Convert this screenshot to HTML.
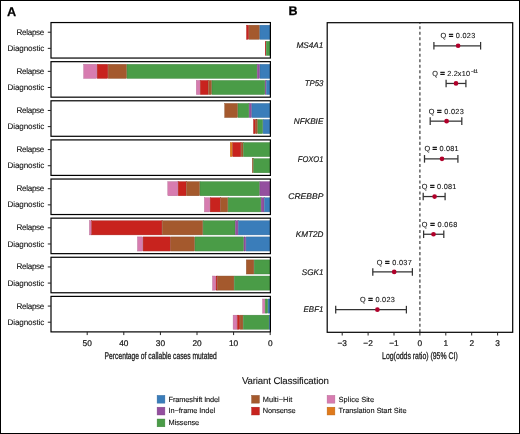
<!DOCTYPE html>
<html><head><meta charset="utf-8"><style>
html,body{margin:0;padding:0;background:#fff;}
#root{position:relative;width:520px;height:434px;overflow:hidden;background:#fff;}
#frame{position:absolute;left:0;top:0;width:520px;height:434px;box-sizing:border-box;border:1px solid #000;}
</style></head><body><div id="root">
<svg width="520" height="434" viewBox="0 0 520 434" style="position:absolute;left:0;top:0;will-change:transform">
<g font-family='"Liberation Sans", sans-serif' text-rendering="geometricPrecision">
<text x="7.0" y="15.65" font-size="12.7" font-weight="bold" fill="#000" stroke="#000" stroke-width="0.25">A</text>
<text x="288.6" y="15.4" font-size="12.5" font-weight="bold" fill="#000" stroke="#000" stroke-width="0.25">B</text>
<rect x="246.50" y="25.17" width="2.20" height="14.12" fill="#c8231e" stroke="#a41c18" stroke-width="0.4"/>
<rect x="249.10" y="25.17" width="10.40" height="14.12" fill="#a4592d" stroke="#864824" stroke-width="0.4"/>
<rect x="259.90" y="25.17" width="10.10" height="14.12" fill="#3a7dba" stroke="#2f6698" stroke-width="0.4"/>
<rect x="265.20" y="41.31" width="0.70" height="14.12" fill="#c8231e" stroke="#a41c18" stroke-width="0.4"/>
<rect x="266.30" y="41.31" width="3.70" height="14.12" fill="#4a9c47" stroke="#3c7f3a" stroke-width="0.4"/>
<rect x="51.0" y="22.55" width="219.40" height="35.5" fill="none" stroke="#000" stroke-width="1.2"/>
<line x1="47.8" x2="51.0" y1="32.23" y2="32.23" stroke="#222" stroke-width="1"/>
<line x1="47.8" x2="51.0" y1="48.37" y2="48.37" stroke="#222" stroke-width="1"/>
<text x="44.3" y="34.75" font-size="8.1" text-anchor="end" textLength="27.8" lengthAdjust="spacing" fill="#111" stroke="#111" stroke-width="0.1">Relapse</text>
<text x="44.3" y="50.90" font-size="8.1" text-anchor="end" textLength="36.8" lengthAdjust="spacing" fill="#111" stroke="#111" stroke-width="0.1">Diagnostic</text>
<rect x="83.70" y="64.29" width="13.10" height="14.12" fill="#d77cb0" stroke="#b06590" stroke-width="0.4"/>
<rect x="97.20" y="64.29" width="10.60" height="14.12" fill="#c8231e" stroke="#a41c18" stroke-width="0.4"/>
<rect x="108.20" y="64.29" width="18.40" height="14.12" fill="#a4592d" stroke="#864824" stroke-width="0.4"/>
<rect x="127.00" y="64.29" width="129.90" height="14.12" fill="#4a9c47" stroke="#3c7f3a" stroke-width="0.4"/>
<rect x="257.30" y="64.29" width="2.30" height="14.12" fill="#944f9f" stroke="#794082" stroke-width="0.4"/>
<rect x="260.00" y="64.29" width="10.00" height="14.12" fill="#3a7dba" stroke="#2f6698" stroke-width="0.4"/>
<rect x="196.30" y="80.43" width="3.60" height="14.12" fill="#d77cb0" stroke="#b06590" stroke-width="0.4"/>
<rect x="200.30" y="80.43" width="7.70" height="14.12" fill="#c8231e" stroke="#a41c18" stroke-width="0.4"/>
<rect x="208.40" y="80.43" width="3.20" height="14.12" fill="#a4592d" stroke="#864824" stroke-width="0.4"/>
<rect x="212.00" y="80.43" width="52.80" height="14.12" fill="#4a9c47" stroke="#3c7f3a" stroke-width="0.4"/>
<rect x="265.20" y="80.43" width="0.80" height="14.12" fill="#944f9f" stroke="#794082" stroke-width="0.4"/>
<rect x="266.40" y="80.43" width="3.60" height="14.12" fill="#3a7dba" stroke="#2f6698" stroke-width="0.4"/>
<rect x="51.0" y="61.67" width="219.40" height="35.5" fill="none" stroke="#000" stroke-width="1.2"/>
<line x1="47.8" x2="51.0" y1="71.35" y2="71.35" stroke="#222" stroke-width="1"/>
<line x1="47.8" x2="51.0" y1="87.49" y2="87.49" stroke="#222" stroke-width="1"/>
<text x="44.3" y="73.87" font-size="8.1" text-anchor="end" textLength="27.8" lengthAdjust="spacing" fill="#111" stroke="#111" stroke-width="0.1">Relapse</text>
<text x="44.3" y="90.02" font-size="8.1" text-anchor="end" textLength="36.8" lengthAdjust="spacing" fill="#111" stroke="#111" stroke-width="0.1">Diagnostic</text>
<rect x="224.70" y="103.41" width="12.90" height="14.12" fill="#a4592d" stroke="#864824" stroke-width="0.4"/>
<rect x="238.00" y="103.41" width="10.80" height="14.12" fill="#4a9c47" stroke="#3c7f3a" stroke-width="0.4"/>
<rect x="249.20" y="103.41" width="2.30" height="14.12" fill="#944f9f" stroke="#794082" stroke-width="0.4"/>
<rect x="251.90" y="103.41" width="18.10" height="14.12" fill="#3a7dba" stroke="#2f6698" stroke-width="0.4"/>
<rect x="253.50" y="119.55" width="1.90" height="14.12" fill="#c8231e" stroke="#a41c18" stroke-width="0.4"/>
<rect x="255.80" y="119.55" width="1.70" height="14.12" fill="#a4592d" stroke="#864824" stroke-width="0.4"/>
<rect x="257.90" y="119.55" width="4.80" height="14.12" fill="#4a9c47" stroke="#3c7f3a" stroke-width="0.4"/>
<rect x="263.10" y="119.55" width="6.90" height="14.12" fill="#3a7dba" stroke="#2f6698" stroke-width="0.4"/>
<rect x="51.0" y="100.79" width="219.40" height="35.5" fill="none" stroke="#000" stroke-width="1.2"/>
<line x1="47.8" x2="51.0" y1="110.47" y2="110.47" stroke="#222" stroke-width="1"/>
<line x1="47.8" x2="51.0" y1="126.61" y2="126.61" stroke="#222" stroke-width="1"/>
<text x="44.3" y="112.99" font-size="8.1" text-anchor="end" textLength="27.8" lengthAdjust="spacing" fill="#111" stroke="#111" stroke-width="0.1">Relapse</text>
<text x="44.3" y="129.14" font-size="8.1" text-anchor="end" textLength="36.8" lengthAdjust="spacing" fill="#111" stroke="#111" stroke-width="0.1">Diagnostic</text>
<rect x="230.20" y="142.53" width="2.20" height="14.12" fill="#df7a1c" stroke="#b66416" stroke-width="0.4"/>
<rect x="232.80" y="142.53" width="8.00" height="14.12" fill="#c8231e" stroke="#a41c18" stroke-width="0.4"/>
<rect x="241.20" y="142.53" width="1.90" height="14.12" fill="#a4592d" stroke="#864824" stroke-width="0.4"/>
<rect x="243.50" y="142.53" width="26.50" height="14.12" fill="#4a9c47" stroke="#3c7f3a" stroke-width="0.4"/>
<rect x="252.30" y="158.67" width="0.90" height="14.12" fill="#a4592d" stroke="#864824" stroke-width="0.4"/>
<rect x="253.60" y="158.67" width="16.40" height="14.12" fill="#4a9c47" stroke="#3c7f3a" stroke-width="0.4"/>
<rect x="51.0" y="139.91" width="219.40" height="35.5" fill="none" stroke="#000" stroke-width="1.2"/>
<line x1="47.8" x2="51.0" y1="149.59" y2="149.59" stroke="#222" stroke-width="1"/>
<line x1="47.8" x2="51.0" y1="165.73" y2="165.73" stroke="#222" stroke-width="1"/>
<text x="44.3" y="152.11" font-size="8.1" text-anchor="end" textLength="27.8" lengthAdjust="spacing" fill="#111" stroke="#111" stroke-width="0.1">Relapse</text>
<text x="44.3" y="168.26" font-size="8.1" text-anchor="end" textLength="36.8" lengthAdjust="spacing" fill="#111" stroke="#111" stroke-width="0.1">Diagnostic</text>
<rect x="167.80" y="181.65" width="10.00" height="14.12" fill="#d77cb0" stroke="#b06590" stroke-width="0.4"/>
<rect x="178.20" y="181.65" width="7.90" height="14.12" fill="#c8231e" stroke="#a41c18" stroke-width="0.4"/>
<rect x="186.50" y="181.65" width="13.10" height="14.12" fill="#a4592d" stroke="#864824" stroke-width="0.4"/>
<rect x="200.00" y="181.65" width="59.50" height="14.12" fill="#4a9c47" stroke="#3c7f3a" stroke-width="0.4"/>
<rect x="259.90" y="181.65" width="10.10" height="14.12" fill="#944f9f" stroke="#794082" stroke-width="0.4"/>
<rect x="204.40" y="197.79" width="5.40" height="14.12" fill="#d77cb0" stroke="#b06590" stroke-width="0.4"/>
<rect x="210.20" y="197.79" width="10.00" height="14.12" fill="#c8231e" stroke="#a41c18" stroke-width="0.4"/>
<rect x="220.60" y="197.79" width="7.10" height="14.12" fill="#a4592d" stroke="#864824" stroke-width="0.4"/>
<rect x="228.10" y="197.79" width="32.70" height="14.12" fill="#4a9c47" stroke="#3c7f3a" stroke-width="0.4"/>
<rect x="261.20" y="197.79" width="2.80" height="14.12" fill="#944f9f" stroke="#794082" stroke-width="0.4"/>
<rect x="264.40" y="197.79" width="5.60" height="14.12" fill="#3a7dba" stroke="#2f6698" stroke-width="0.4"/>
<rect x="51.0" y="179.03" width="219.40" height="35.5" fill="none" stroke="#000" stroke-width="1.2"/>
<line x1="47.8" x2="51.0" y1="188.71" y2="188.71" stroke="#222" stroke-width="1"/>
<line x1="47.8" x2="51.0" y1="204.85" y2="204.85" stroke="#222" stroke-width="1"/>
<text x="44.3" y="191.23" font-size="8.1" text-anchor="end" textLength="27.8" lengthAdjust="spacing" fill="#111" stroke="#111" stroke-width="0.1">Relapse</text>
<text x="44.3" y="207.38" font-size="8.1" text-anchor="end" textLength="36.8" lengthAdjust="spacing" fill="#111" stroke="#111" stroke-width="0.1">Diagnostic</text>
<rect x="89.40" y="220.77" width="1.90" height="14.12" fill="#d77cb0" stroke="#b06590" stroke-width="0.4"/>
<rect x="91.70" y="220.77" width="70.20" height="14.12" fill="#c8231e" stroke="#a41c18" stroke-width="0.4"/>
<rect x="162.30" y="220.77" width="40.40" height="14.12" fill="#a4592d" stroke="#864824" stroke-width="0.4"/>
<rect x="203.10" y="220.77" width="31.90" height="14.12" fill="#4a9c47" stroke="#3c7f3a" stroke-width="0.4"/>
<rect x="235.40" y="220.77" width="2.50" height="14.12" fill="#944f9f" stroke="#794082" stroke-width="0.4"/>
<rect x="238.30" y="220.77" width="31.70" height="14.12" fill="#3a7dba" stroke="#2f6698" stroke-width="0.4"/>
<rect x="137.50" y="236.91" width="5.20" height="14.12" fill="#d77cb0" stroke="#b06590" stroke-width="0.4"/>
<rect x="143.10" y="236.91" width="27.30" height="14.12" fill="#c8231e" stroke="#a41c18" stroke-width="0.4"/>
<rect x="170.80" y="236.91" width="23.80" height="14.12" fill="#a4592d" stroke="#864824" stroke-width="0.4"/>
<rect x="195.00" y="236.91" width="48.60" height="14.12" fill="#4a9c47" stroke="#3c7f3a" stroke-width="0.4"/>
<rect x="244.00" y="236.91" width="1.70" height="14.12" fill="#944f9f" stroke="#794082" stroke-width="0.4"/>
<rect x="246.10" y="236.91" width="23.90" height="14.12" fill="#3a7dba" stroke="#2f6698" stroke-width="0.4"/>
<rect x="51.0" y="218.15" width="219.40" height="35.5" fill="none" stroke="#000" stroke-width="1.2"/>
<line x1="47.8" x2="51.0" y1="227.83" y2="227.83" stroke="#222" stroke-width="1"/>
<line x1="47.8" x2="51.0" y1="243.97" y2="243.97" stroke="#222" stroke-width="1"/>
<text x="44.3" y="230.35" font-size="8.1" text-anchor="end" textLength="27.8" lengthAdjust="spacing" fill="#111" stroke="#111" stroke-width="0.1">Relapse</text>
<text x="44.3" y="246.50" font-size="8.1" text-anchor="end" textLength="36.8" lengthAdjust="spacing" fill="#111" stroke="#111" stroke-width="0.1">Diagnostic</text>
<rect x="246.30" y="259.89" width="7.50" height="14.12" fill="#a4592d" stroke="#864824" stroke-width="0.4"/>
<rect x="254.20" y="259.89" width="15.80" height="14.12" fill="#4a9c47" stroke="#3c7f3a" stroke-width="0.4"/>
<rect x="212.50" y="276.03" width="3.20" height="14.12" fill="#d77cb0" stroke="#b06590" stroke-width="0.4"/>
<rect x="216.10" y="276.03" width="1.20" height="14.12" fill="#c8231e" stroke="#a41c18" stroke-width="0.4"/>
<rect x="217.70" y="276.03" width="16.20" height="14.12" fill="#a4592d" stroke="#864824" stroke-width="0.4"/>
<rect x="234.30" y="276.03" width="35.70" height="14.12" fill="#4a9c47" stroke="#3c7f3a" stroke-width="0.4"/>
<rect x="51.0" y="257.27" width="219.40" height="35.5" fill="none" stroke="#000" stroke-width="1.2"/>
<line x1="47.8" x2="51.0" y1="266.95" y2="266.95" stroke="#222" stroke-width="1"/>
<line x1="47.8" x2="51.0" y1="283.09" y2="283.09" stroke="#222" stroke-width="1"/>
<text x="44.3" y="269.47" font-size="8.1" text-anchor="end" textLength="27.8" lengthAdjust="spacing" fill="#111" stroke="#111" stroke-width="0.1">Relapse</text>
<text x="44.3" y="285.62" font-size="8.1" text-anchor="end" textLength="36.8" lengthAdjust="spacing" fill="#111" stroke="#111" stroke-width="0.1">Diagnostic</text>
<rect x="262.60" y="299.01" width="2.20" height="14.12" fill="#d77cb0" stroke="#b06590" stroke-width="0.4"/>
<rect x="265.20" y="299.01" width="2.50" height="14.12" fill="#4a9c47" stroke="#3c7f3a" stroke-width="0.4"/>
<rect x="268.10" y="299.01" width="1.90" height="14.12" fill="#3a7dba" stroke="#2f6698" stroke-width="0.4"/>
<rect x="233.10" y="315.15" width="3.90" height="14.12" fill="#d77cb0" stroke="#b06590" stroke-width="0.4"/>
<rect x="237.40" y="315.15" width="2.30" height="14.12" fill="#c8231e" stroke="#a41c18" stroke-width="0.4"/>
<rect x="240.10" y="315.15" width="2.80" height="14.12" fill="#a4592d" stroke="#864824" stroke-width="0.4"/>
<rect x="243.30" y="315.15" width="25.60" height="14.12" fill="#4a9c47" stroke="#3c7f3a" stroke-width="0.4"/>
<rect x="269.30" y="315.15" width="0.70" height="14.12" fill="#3a7dba" stroke="#2f6698" stroke-width="0.4"/>
<rect x="51.0" y="296.39" width="219.40" height="35.5" fill="none" stroke="#000" stroke-width="1.2"/>
<line x1="47.8" x2="51.0" y1="306.07" y2="306.07" stroke="#222" stroke-width="1"/>
<line x1="47.8" x2="51.0" y1="322.21" y2="322.21" stroke="#222" stroke-width="1"/>
<text x="44.3" y="308.59" font-size="8.1" text-anchor="end" textLength="27.8" lengthAdjust="spacing" fill="#111" stroke="#111" stroke-width="0.1">Relapse</text>
<text x="44.3" y="324.74" font-size="8.1" text-anchor="end" textLength="36.8" lengthAdjust="spacing" fill="#111" stroke="#111" stroke-width="0.1">Diagnostic</text>
<line x1="270.20" x2="270.20" y1="331.89" y2="335.09" stroke="#222" stroke-width="1"/>
<text x="270.20" y="345.8" font-size="8.3" text-anchor="middle" fill="#111" stroke="#111" stroke-width="0.2">0</text>
<line x1="233.60" x2="233.60" y1="331.89" y2="335.09" stroke="#222" stroke-width="1"/>
<text x="233.60" y="345.8" font-size="8.3" text-anchor="middle" fill="#111" stroke="#111" stroke-width="0.2">10</text>
<line x1="197.00" x2="197.00" y1="331.89" y2="335.09" stroke="#222" stroke-width="1"/>
<text x="197.00" y="345.8" font-size="8.3" text-anchor="middle" fill="#111" stroke="#111" stroke-width="0.2">20</text>
<line x1="160.40" x2="160.40" y1="331.89" y2="335.09" stroke="#222" stroke-width="1"/>
<text x="160.40" y="345.8" font-size="8.3" text-anchor="middle" fill="#111" stroke="#111" stroke-width="0.2">30</text>
<line x1="123.80" x2="123.80" y1="331.89" y2="335.09" stroke="#222" stroke-width="1"/>
<text x="123.80" y="345.8" font-size="8.3" text-anchor="middle" fill="#111" stroke="#111" stroke-width="0.2">40</text>
<line x1="87.20" x2="87.20" y1="331.89" y2="335.09" stroke="#222" stroke-width="1"/>
<text x="87.20" y="345.8" font-size="8.3" text-anchor="middle" fill="#111" stroke="#111" stroke-width="0.2">50</text>
<text x="160.7" y="359.0" font-size="9.7" text-anchor="middle" textLength="112.3" lengthAdjust="spacingAndGlyphs" fill="#1a1a1a" stroke="#1a1a1a" stroke-width="0.3">Percentage of callable cases mutated</text>
<line x1="419.9" x2="419.9" y1="22.7" y2="332.3" stroke="#4a4a4a" stroke-width="1.3" stroke-dasharray="3.1 2.408" stroke-dashoffset="2.008"/>
<text x="323.4" y="48.45" font-size="8.3" font-style="italic" text-anchor="end" textLength="26.9" lengthAdjust="spacingAndGlyphs" fill="#111" stroke="#111" stroke-width="0.15">MS4A1</text>
<line x1="433.9" x2="480.6" y1="45.75" y2="45.75" stroke="#333" stroke-width="1.25"/>
<line x1="433.9" x2="433.9" y1="41.95" y2="49.55" stroke="#333" stroke-width="1.25"/>
<line x1="480.6" x2="480.6" y1="41.95" y2="49.55" stroke="#333" stroke-width="1.25"/>
<circle cx="458.1" cy="45.75" r="2.35" fill="#b0002a"/>
<text x="440.5" y="38.35" font-size="7.3" textLength="34.7" lengthAdjust="spacing" fill="#111" stroke="#111" stroke-width="0.1">Q <tspan font-weight="bold" font-size="7.8" stroke-width="0.35">=</tspan> 0.023</text>
<text x="323.4" y="86.15" font-size="8.3" font-style="italic" text-anchor="end" textLength="18.7" lengthAdjust="spacingAndGlyphs" fill="#111" stroke="#111" stroke-width="0.15">TP53</text>
<line x1="446.1" x2="465.9" y1="83.45" y2="83.45" stroke="#333" stroke-width="1.25"/>
<line x1="446.1" x2="446.1" y1="79.65" y2="87.25" stroke="#333" stroke-width="1.25"/>
<line x1="465.9" x2="465.9" y1="79.65" y2="87.25" stroke="#333" stroke-width="1.25"/>
<circle cx="456.0" cy="83.45" r="2.35" fill="#b0002a"/>
<text x="432.2" y="76.05" font-size="7.3" textLength="37.8" lengthAdjust="spacing" fill="#111" stroke="#111" stroke-width="0.08">Q <tspan font-weight="bold" font-size="7.8" stroke-width="0.35">=</tspan> 2.2x10</text>
<text x="470.9" y="72.75" font-size="5.0" textLength="7.2" lengthAdjust="spacing" fill="#111" stroke="#111" stroke-width="0.15">&#8722;11</text>
<text x="323.4" y="123.85" font-size="8.3" font-style="italic" text-anchor="end" textLength="29.7" lengthAdjust="spacingAndGlyphs" fill="#111" stroke="#111" stroke-width="0.15">NFKBIE</text>
<line x1="430.2" x2="461.8" y1="121.15" y2="121.15" stroke="#333" stroke-width="1.25"/>
<line x1="430.2" x2="430.2" y1="117.35" y2="124.95" stroke="#333" stroke-width="1.25"/>
<line x1="461.8" x2="461.8" y1="117.35" y2="124.95" stroke="#333" stroke-width="1.25"/>
<circle cx="446.6" cy="121.15" r="2.35" fill="#b0002a"/>
<text x="428.8" y="113.75" font-size="7.3" textLength="35.0" lengthAdjust="spacing" fill="#111" stroke="#111" stroke-width="0.1">Q <tspan font-weight="bold" font-size="7.8" stroke-width="0.35">=</tspan> 0.023</text>
<text x="323.4" y="161.55" font-size="8.3" font-style="italic" text-anchor="end" textLength="25.6" lengthAdjust="spacingAndGlyphs" fill="#111" stroke="#111" stroke-width="0.15">FOXO1</text>
<line x1="424.5" x2="457.9" y1="158.85" y2="158.85" stroke="#333" stroke-width="1.25"/>
<line x1="424.5" x2="424.5" y1="155.05" y2="162.65" stroke="#333" stroke-width="1.25"/>
<line x1="457.9" x2="457.9" y1="155.05" y2="162.65" stroke="#333" stroke-width="1.25"/>
<circle cx="442.0" cy="158.85" r="2.35" fill="#b0002a"/>
<text x="424.5" y="151.45" font-size="7.3" textLength="34.1" lengthAdjust="spacing" fill="#111" stroke="#111" stroke-width="0.1">Q <tspan font-weight="bold" font-size="7.8" stroke-width="0.35">=</tspan> 0.081</text>
<text x="323.4" y="199.25" font-size="8.3" font-style="italic" text-anchor="end" textLength="35.1" lengthAdjust="spacingAndGlyphs" fill="#111" stroke="#111" stroke-width="0.15">CREBBP</text>
<line x1="423.2" x2="445.1" y1="196.55" y2="196.55" stroke="#333" stroke-width="1.25"/>
<line x1="423.2" x2="423.2" y1="192.75" y2="200.35" stroke="#333" stroke-width="1.25"/>
<line x1="445.1" x2="445.1" y1="192.75" y2="200.35" stroke="#333" stroke-width="1.25"/>
<circle cx="434.6" cy="196.55" r="2.35" fill="#b0002a"/>
<text x="421.8" y="189.15" font-size="7.3" textLength="34.6" lengthAdjust="spacing" fill="#111" stroke="#111" stroke-width="0.1">Q <tspan font-weight="bold" font-size="7.8" stroke-width="0.35">=</tspan> 0.081</text>
<text x="323.4" y="236.95" font-size="8.3" font-style="italic" text-anchor="end" textLength="27.6" lengthAdjust="spacingAndGlyphs" fill="#111" stroke="#111" stroke-width="0.15">KMT2D</text>
<line x1="423.6" x2="443.8" y1="234.25" y2="234.25" stroke="#333" stroke-width="1.25"/>
<line x1="423.6" x2="423.6" y1="230.45" y2="238.05" stroke="#333" stroke-width="1.25"/>
<line x1="443.8" x2="443.8" y1="230.45" y2="238.05" stroke="#333" stroke-width="1.25"/>
<circle cx="433.5" cy="234.25" r="2.35" fill="#b0002a"/>
<text x="421.8" y="226.85" font-size="7.3" textLength="35.4" lengthAdjust="spacing" fill="#111" stroke="#111" stroke-width="0.1">Q <tspan font-weight="bold" font-size="7.8" stroke-width="0.35">=</tspan> 0.068</text>
<text x="323.4" y="274.65" font-size="8.3" font-style="italic" text-anchor="end" textLength="21.6" lengthAdjust="spacingAndGlyphs" fill="#111" stroke="#111" stroke-width="0.15">SGK1</text>
<line x1="372.8" x2="412.4" y1="271.95" y2="271.95" stroke="#333" stroke-width="1.25"/>
<line x1="372.8" x2="372.8" y1="268.15" y2="275.75" stroke="#333" stroke-width="1.25"/>
<line x1="412.4" x2="412.4" y1="268.15" y2="275.75" stroke="#333" stroke-width="1.25"/>
<circle cx="394.2" cy="271.95" r="2.35" fill="#b0002a"/>
<text x="376.8" y="264.55" font-size="7.3" textLength="35.0" lengthAdjust="spacing" fill="#111" stroke="#111" stroke-width="0.1">Q <tspan font-weight="bold" font-size="7.8" stroke-width="0.35">=</tspan> 0.037</text>
<text x="323.4" y="312.35" font-size="8.3" font-style="italic" text-anchor="end" textLength="19.8" lengthAdjust="spacingAndGlyphs" fill="#111" stroke="#111" stroke-width="0.15">EBF1</text>
<line x1="335.7" x2="406.4" y1="309.65" y2="309.65" stroke="#333" stroke-width="1.25"/>
<line x1="335.7" x2="335.7" y1="305.85" y2="313.45" stroke="#333" stroke-width="1.25"/>
<line x1="406.4" x2="406.4" y1="305.85" y2="313.45" stroke="#333" stroke-width="1.25"/>
<circle cx="377.4" cy="309.65" r="2.35" fill="#b0002a"/>
<text x="359.9" y="302.25" font-size="7.3" textLength="35.0" lengthAdjust="spacing" fill="#111" stroke="#111" stroke-width="0.1">Q <tspan font-weight="bold" font-size="7.8" stroke-width="0.35">=</tspan> 0.023</text>
<rect x="327.2" y="22.7" width="185.50" height="309.60" fill="none" stroke="#000" stroke-width="1.2"/>
<line x1="342.20" x2="342.20" y1="332.30" y2="335.50" stroke="#222" stroke-width="1"/>
<text x="342.20" y="345.6" font-size="8.3" text-anchor="middle" fill="#111" stroke="#111" stroke-width="0.2">&#8722;3</text>
<line x1="368.10" x2="368.10" y1="332.30" y2="335.50" stroke="#222" stroke-width="1"/>
<text x="368.10" y="345.6" font-size="8.3" text-anchor="middle" fill="#111" stroke="#111" stroke-width="0.2">&#8722;2</text>
<line x1="394.00" x2="394.00" y1="332.30" y2="335.50" stroke="#222" stroke-width="1"/>
<text x="394.00" y="345.6" font-size="8.3" text-anchor="middle" fill="#111" stroke="#111" stroke-width="0.2">&#8722;1</text>
<line x1="419.90" x2="419.90" y1="332.30" y2="335.50" stroke="#222" stroke-width="1"/>
<text x="419.90" y="345.6" font-size="8.3" text-anchor="middle" fill="#111" stroke="#111" stroke-width="0.2">0</text>
<line x1="445.80" x2="445.80" y1="332.30" y2="335.50" stroke="#222" stroke-width="1"/>
<text x="445.80" y="345.6" font-size="8.3" text-anchor="middle" fill="#111" stroke="#111" stroke-width="0.2">1</text>
<line x1="471.70" x2="471.70" y1="332.30" y2="335.50" stroke="#222" stroke-width="1"/>
<text x="471.70" y="345.6" font-size="8.3" text-anchor="middle" fill="#111" stroke="#111" stroke-width="0.2">2</text>
<line x1="497.60" x2="497.60" y1="332.30" y2="335.50" stroke="#222" stroke-width="1"/>
<text x="497.60" y="345.6" font-size="8.3" text-anchor="middle" fill="#111" stroke="#111" stroke-width="0.2">3</text>
<text x="419.9" y="359.4" font-size="9.7" text-anchor="middle" textLength="75.6" lengthAdjust="spacingAndGlyphs" fill="#1a1a1a" stroke="#1a1a1a" stroke-width="0.3">Log(odds ratio) (95% CI)</text>
<text x="241.9" y="383.8" font-size="9.7" textLength="86.9" lengthAdjust="spacing" fill="#111" stroke="#111" stroke-width="0.1">Variant Classification</text>
<rect x="157.10" y="395.35" width="7.8" height="7.8" fill="#3a7dba" stroke="#2f6698" stroke-width="0.4"/>
<text x="168.6" y="401.65" font-size="7.4" textLength="51.1" lengthAdjust="spacing" fill="#111" stroke="#111" stroke-width="0.12">Frameshift Indel</text>
<rect x="157.10" y="407.18" width="7.8" height="7.8" fill="#944f9f" stroke="#794082" stroke-width="0.4"/>
<text x="168.6" y="413.48" font-size="7.4" textLength="46.5" lengthAdjust="spacing" fill="#111" stroke="#111" stroke-width="0.12">In&#8722;frame Indel</text>
<rect x="157.10" y="419.01" width="7.8" height="7.8" fill="#4a9c47" stroke="#3c7f3a" stroke-width="0.4"/>
<text x="168.6" y="425.31" font-size="7.4" textLength="30.6" lengthAdjust="spacing" fill="#111" stroke="#111" stroke-width="0.12">Missense</text>
<rect x="251.60" y="395.35" width="7.8" height="7.8" fill="#a4592d" stroke="#864824" stroke-width="0.4"/>
<text x="262.7" y="401.65" font-size="7.4" textLength="29.6" lengthAdjust="spacing" fill="#111" stroke="#111" stroke-width="0.12">Multi&#8722;Hit</text>
<rect x="251.60" y="407.18" width="7.8" height="7.8" fill="#c8231e" stroke="#a41c18" stroke-width="0.4"/>
<text x="262.7" y="413.48" font-size="7.4" textLength="33.0" lengthAdjust="spacing" fill="#111" stroke="#111" stroke-width="0.12">Nonsense</text>
<rect x="327.10" y="395.35" width="7.8" height="7.8" fill="#d77cb0" stroke="#b06590" stroke-width="0.4"/>
<text x="338.6" y="401.65" font-size="7.4" textLength="35.5" lengthAdjust="spacing" fill="#111" stroke="#111" stroke-width="0.12">Splice Site</text>
<rect x="327.10" y="407.18" width="7.8" height="7.8" fill="#df7a1c" stroke="#b66416" stroke-width="0.4"/>
<text x="338.6" y="413.48" font-size="7.4" textLength="67.9" lengthAdjust="spacing" fill="#111" stroke="#111" stroke-width="0.12">Translation Start Site</text>
</g></svg>
<div id="frame"></div>
</div></body></html>
